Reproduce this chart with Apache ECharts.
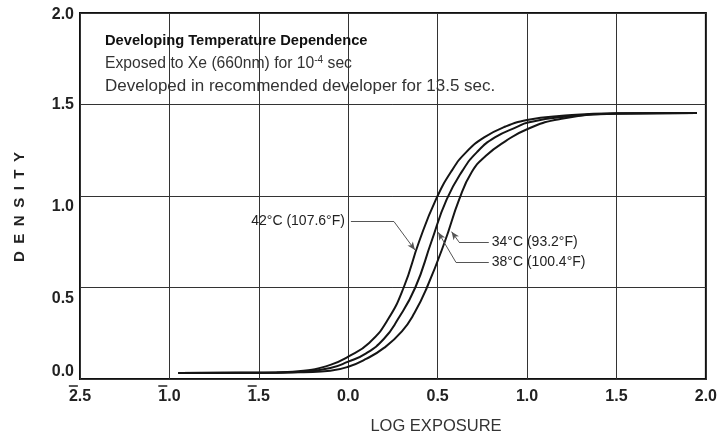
<!DOCTYPE html>
<html>
<head>
<meta charset="utf-8">
<script src="https://cdn.jsdelivr.net/npm/echarts@6/dist/echarts.min.js"></script>
<style>html,body{margin:0;padding:0;background:#fff}#c{width:720px;height:440px}</style>
</head>
<body>
<div id="c"></div>
<script>
// x tick labels (bar notation for negative characteristics: barred digit + mantissa)
const xTickValues = [-1.5, -1.0, -0.5, 0.0, 0.5, 1.0, 1.5, 2.0];
const xTickLabels = ['2.5', '1.0', '1.5', '0.0', '0.5', '1.0', '1.5', '2.0'];
const xTickBarred = [true, true, true, false, false, false, false, false];
const yTickLabels = ['0.0', '0.5', '1.0', '1.5', '2.0'];

const seriesNames = ['42°C (107.6°F)', '38°C (100.4°F)', '34°C (93.2°F)'];

const curve42 = [[-0.95,0.033],[-0.6,0.034],[-0.4,0.036],[-0.25,0.045],[-0.1,0.077],[0.0,0.122],[0.117,0.197],[0.22,0.322],[0.31,0.5],[0.396,0.75],[0.49,0.98],[0.58,1.14],[0.66,1.24],[0.76,1.32],[0.88,1.38],[1.0,1.415],[1.18,1.437],[1.5,1.452],[1.95,1.453]];
const curve38 = [[-0.95,0.033],[-0.6,0.034],[-0.4,0.035],[-0.25,0.04],[-0.1,0.06],[0.0,0.095],[0.1,0.14],[0.2,0.22],[0.275,0.322],[0.375,0.5],[0.465,0.75],[0.55,0.98],[0.64,1.14],[0.72,1.24],[0.82,1.32],[0.95,1.38],[1.0,1.40],[1.18,1.43],[1.5,1.451],[1.95,1.453]];
const curve34 = [[-0.95,0.033],[-0.6,0.034],[-0.4,0.034],[-0.25,0.037],[-0.1,0.045],[0.0,0.067],[0.1,0.11],[0.2,0.17],[0.3,0.26],[0.37,0.36],[0.44,0.5],[0.54,0.75],[0.62,0.98],[0.69,1.13],[0.77,1.22],[0.88,1.30],[1.0,1.365],[1.18,1.42],[1.5,1.45],[1.95,1.453]];

// leader lines: [text end, elbow, arrow tip] in data coordinates
const leader42 = [[0.015,0.86],[0.256,0.86],[0.373,0.705]];
const leader38 = [[0.786,0.638],[0.602,0.638],[0.503,0.802]];
const leader34 = [[0.786,0.749],[0.619,0.749],[0.578,0.805]];

const FONT = '"Liberation Sans", Arial, Helvetica, sans-serif';

function leaderData(pts, label, dist) {
  return [
    [{coord: pts[0], symbol: 'none',
      label: {show: true, position: 'start', formatter: label, distance: dist,
              color: '#222', fontSize: 14, fontFamily: FONT}},
     {coord: pts[1], symbol: 'none'}],
    [{coord: pts[1], symbol: 'none', label: {show: false}},
     {coord: pts[2], symbol: 'arrow', symbolSize: [5, 8]}]
  ];
}

function lineSeries(name, data, leader, dist) {
  return {
    name: name, type: 'line', data: data, smooth: 0.5,
    showSymbol: false, symbol: 'none',
    lineStyle: {color: '#151515', width: 2}, z: 3,
    markLine: {
      silent: true, symbol: 'none', animation: false,
      lineStyle: {color: '#555', width: 1, type: 'solid'},
      label: {show: false},
      data: leaderData(leader, name, dist)
    }
  };
}

const chart = echarts.init(document.getElementById('c'), null, {renderer: 'canvas'});
chart.setOption({
  animation: false,
  backgroundColor: '#fff',
  grid: {left: 80, right: 12, top: 13, bottom: 61, show: true, borderColor: '#111', borderWidth: 2, backgroundColor: 'transparent'},
  title: [
    {text: 'Developing Temperature Dependence', left: 105, top: 33, padding: 0,
     textStyle: {fontFamily: FONT, fontWeight: 'bold', fontSize: 14.7, color: '#111'}},
    {text: 'Exposed to Xe (660nm) for 10{sup|-4} sec', left: 105, top: 55, padding: 0,
     textStyle: {fontFamily: FONT, fontWeight: 'normal', fontSize: 15.7, color: '#333',
       rich: {sup: {fontFamily: FONT, fontSize: 10, color: '#333', verticalAlign: 'top', padding: [0, 0, 8, 0]}}}},
    {text: 'Developed in recommended developer for 13.5 sec.', left: 105, top: 78, padding: 0,
     textStyle: {fontFamily: FONT, fontWeight: 'normal', fontSize: 17, color: '#333'}},
    {text: 'LOG EXPOSURE', left: 436, top: 418, textAlign: 'center', padding: 0,
     textStyle: {fontFamily: FONT, fontWeight: 'normal', fontSize: 16.5, color: '#333'}}
  ],
  graphic: [
    {type: 'text', x: 20, y: 207, rotation: Math.PI / 2,
     style: {text: 'D\u2002E\u2002N\u2002S\u2002I\u2002T\u2002Y', fill: '#222',
             font: 'bold 15px ' + FONT, textAlign: 'center', textVerticalAlign: 'middle'}}
  ],
  xAxis: {
    type: 'value', min: -1.5, max: 2.0, interval: 0.5,
    axisLine: {show: false}, axisTick: {show: false},
    splitLine: {show: true, lineStyle: {color: '#333', width: 1}},
    axisLabel: {
      margin: 5, fontFamily: FONT, fontWeight: 'bold', fontSize: 16, color: '#222',
      formatter: function (v) {
        const i = xTickValues.findIndex(t => Math.abs(t - v) < 1e-9);
        if (i < 0) return '';
        return (xTickBarred[i] ? '{bar| }' : '{nob| }') + '\n{n|' + xTickLabels[i] + '}';
      },
      rich: {
        bar: {width: 9, height: 1.5, lineHeight: 4, backgroundColor: '#222', align: 'left', fontSize: 1},
        nob: {width: 9, height: 1.5, lineHeight: 4, align: 'left', fontSize: 1},
        n: {fontFamily: FONT, fontWeight: 'bold', fontSize: 16, color: '#222', lineHeight: 18}
      }
    }
  },
  yAxis: {
    type: 'value', min: 0, max: 2.0, interval: 0.5,
    axisLine: {show: false}, axisTick: {show: false},
    splitLine: {show: true, lineStyle: {color: '#333', width: 1}},
    axisLabel: {
      margin: 6, fontFamily: FONT, fontWeight: 'bold', fontSize: 16, color: '#222',
      formatter: function (v) {
        const i = Math.round(v / 0.5);
        return '{l' + i + '|' + yTickLabels[i] + '}';
      },
      rich: {
        l0: {fontFamily: FONT, fontWeight: 'bold', fontSize: 16, color: '#222', padding: [0, 0, 14, 0]},
        l1: {fontFamily: FONT, fontWeight: 'bold', fontSize: 16, color: '#222', padding: [22, 0, 0, 0]},
        l2: {fontFamily: FONT, fontWeight: 'bold', fontSize: 16, color: '#222', padding: [22, 0, 0, 0]},
        l3: {fontFamily: FONT, fontWeight: 'bold', fontSize: 16, color: '#222'},
        l4: {fontFamily: FONT, fontWeight: 'bold', fontSize: 16, color: '#222', padding: [4, 0, 0, 0]}
      }
    }
  },
  series: [
    lineSeries(seriesNames[0], curve42, leader42, 6),
    lineSeries(seriesNames[1], curve38, leader38, 3),
    lineSeries(seriesNames[2], curve34, leader34, 3)
  ]
});
</script>
</body>
</html>
